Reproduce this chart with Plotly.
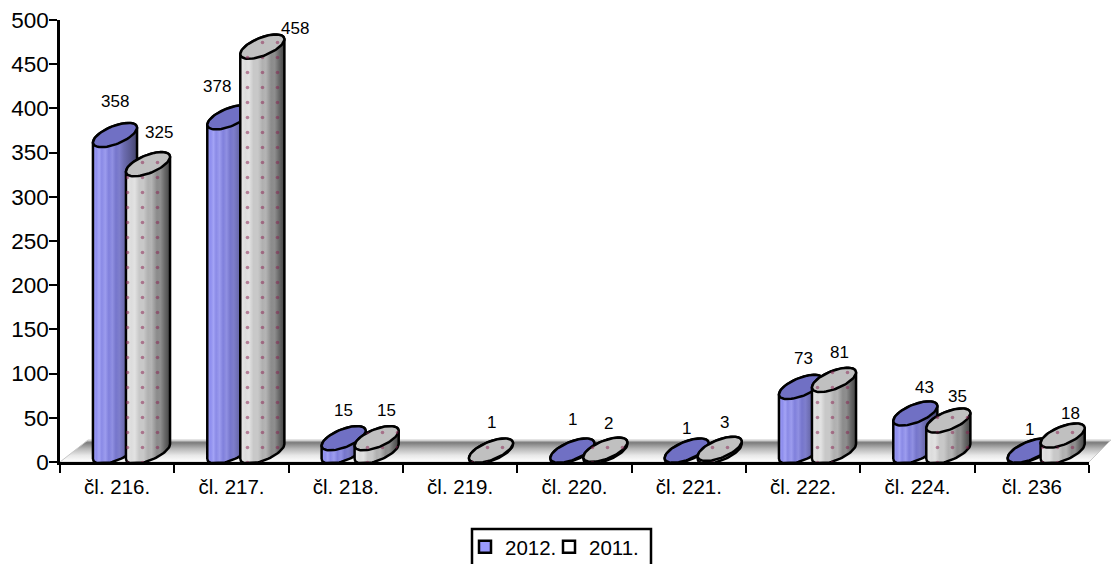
import math
import numpy as np
import plotly.graph_objects as go

categories = ["čl. 216.", "čl. 217.", "čl. 218.", "čl. 219.", "čl. 220.", "čl. 221.", "čl. 222.", "čl. 224.", "čl. 236"]
values_2012 = [358, 378, 15, None, 1, 1, 73, 43, 1]
values_2011 = [325, 458, 15, 1, 2, 3, 81, 35, 18]
y_ticks = [0, 50, 100, 150, 200, 250, 300, 350, 400, 450, 500]

# label nudges in pixels from the top of each cylinder
label_nudge_2012 = [(0, 44), (-12, 41), (0, 38), (0, 0), (0, 42), (0, 33), (3, 39), (9, 36), (0, 32)]
label_nudge_2011 = [(11, 42), (33, 29), (10, 38), (1, 39), (3, 37), (5, 37), (6, 38), (9, 35), (8, 33)]

L, R, T, B = 60, 0, 20, 102
W, H = 1111, 564
AXIS_W = 1029
PLOT_W = W - L - R
PX_X = AXIS_W / 9
PX_Y = (H - T - B) / 500
A, BB, TH = 23.5, 9.0, math.radians(22)
CY_OFF = 10.5
T0 = math.atan2(-BB * math.sin(TH), A * math.cos(TH))


def ell(t, cx, v):
    dx = A * np.cos(t) * math.cos(TH) - BB * np.sin(t) * math.sin(TH)
    dy = A * np.cos(t) * math.sin(TH) + BB * np.sin(t) * math.cos(TH)
    return cx + dx / PX_X, v + (CY_OFF + dy) / PX_Y


def full_ellipse(cx, v):
    return ell(np.linspace(0, 2 * math.pi, 73), cx, v)


def body(cx, v):
    lower = np.linspace(T0 + math.pi, T0 + 2 * math.pi, 40)
    upper = np.linspace(T0, T0 + math.pi, 40)
    bx, by = ell(lower, cx, 0)
    tx, ty = ell(upper, cx, v)
    return np.r_[bx, tx, bx[0]], np.maximum(np.r_[by, ty, by[0]], -1.0)


BLUE_SCALE = [[0, "#9c9cf8"], [0.08, "#8f8fee"], [0.14, "#a3a3f5"], [0.2, "#8a8ae6"], [0.28, "#9c9cee"],
              [0.36, "#8080dc"], [0.44, "#9090e2"], [0.52, "#7676cc"], [0.6, "#7e7ecc"], [0.7, "#6c6cb0"],
              [0.85, "#5a5a92"], [1, "#44446c"]]
GRAY_SCALE = [[0, "#e8e8e8"], [0.12, "#dcdcdc"], [0.2, "#e2e2e2"], [0.3, "#c8c8c8"], [0.4, "#c8c8c8"],
              [0.5, "#b0b0b0"], [0.58, "#b4b4b4"], [0.7, "#8c8c8c"], [0.78, "#8e8e8e"], [0.88, "#686868"],
              [1, "#444444"]]
SERIES = [
    ("2012.", values_2012, -0.019, BLUE_SCALE, "#7070c4", label_nudge_2012, False),
    ("2011.", values_2011, 33 / PX_X - 0.019, GRAY_SCALE, "#c0c0c0", label_nudge_2011, True),
]
DOTS = dict(shape=".", size=15, solidity=0.045, fgcolor="#8a2050", bgcolor="rgba(0,0,0,0)", fillmode="overlay")
X2_RANGE = [-0.5, -0.5 + PLOT_W / PX_X]

fig = go.Figure()
# carries the category axis
fig.add_trace(go.Scatter(x=categories, y=values_2011, mode="markers", marker=dict(opacity=0),
                         showlegend=False, hoverinfo="skip"))

# floor
x0, dp = -0.5, 28 / PX_X
floor_h = 22 / PX_Y
floor_x = [x0, x0 + 9, x0 + 9 + 22 / PX_X, x0 + dp, x0]
floor_y = [0, 0, floor_h, floor_h, 0]
fig.add_trace(go.Scatter(x=floor_x, y=floor_y, xaxis="x2", mode="lines", fill="toself",
                         line=dict(color="#c8c8c8", width=1),
                         fillgradient=dict(type="vertical",
                                           colorscale=[[0, "#ffffff"], [0.3, "#e8e8e8"], [0.6, "#b8b8b8"],
                                                       [0.88, "#7c7c7c"], [0.93, "#a0a0a0"], [1, "#f0f0f0"]]),
                         showlegend=False, hoverinfo="skip"))

annotations = []
for i in range(len(categories)):
    for name, vals, off, scale, top, nudge, dotted in SERIES:
        v = vals[i]
        if v is None:
            continue
        cx = i + off
        bx, by = body(cx, v)
        fig.add_trace(go.Scatter(x=bx, y=by, xaxis="x2", mode="lines", fill="toself",
                                 line=dict(color="black", width=2.5),
                                 fillgradient=dict(type="horizontal", colorscale=scale),
                                 showlegend=False, hoverinfo="skip"))
        if dotted:
            fig.add_trace(go.Scatter(x=bx, y=by, xaxis="x2", mode="none", fill="toself",
                                     fillcolor="rgba(0,0,0,0)", fillpattern=DOTS,
                                     showlegend=False, hoverinfo="skip"))
        ex, ey = full_ellipse(cx, v)
        fig.add_trace(go.Scatter(x=ex, y=ey, xaxis="x2", mode="lines", fill="toself", fillcolor=top,
                                 line=dict(color="black", width=2.5),
                                 showlegend=False, hoverinfo="skip"))
        if dotted:
            fig.add_trace(go.Scatter(x=ex, y=ey, xaxis="x2", mode="none", fill="toself",
                                     fillcolor="rgba(0,0,0,0)", fillpattern=DOTS,
                                     showlegend=False, hoverinfo="skip"))
        annotations.append(dict(x=cx, y=v, xref="x2", yref="y", text=str(v), showarrow=False,
                                xshift=nudge[i][0], yshift=nudge[i][1],
                                font=dict(family="Liberation Sans", size=17, color="black")))

for name, color, lg in (("2012.", "#9999ff", "legend"), ("2011.", "#ffffff", "legend2")):
    fig.add_trace(go.Scatter(x=[None], y=[None], xaxis="x2", mode="markers", name=name, legend=lg, showlegend=True,
                             marker=dict(symbol="square", size=12, color=color, line=dict(color="black", width=2.5))))

plot_h = H - T - B
legend_common = dict(orientation="h", xref="container", xanchor="left", y=37 / 564, yref="container",
                     yanchor="top", bgcolor="rgba(0,0,0,0)", borderwidth=0, font=dict(size=20.5),
                     itemwidth=30, itemclick=False, itemdoubleclick=False)
fig.update_layout(
    width=W, height=H, margin=dict(l=L, r=R, t=T, b=B, pad=0, autoexpand=False),
    paper_bgcolor="white", plot_bgcolor="white", hovermode=False,
    font=dict(family="Liberation Sans", color="black"),
    xaxis=dict(type="category", categoryorder="array", categoryarray=categories, range=[-0.5, 8.5],
               domain=[0, AXIS_W / PLOT_W], anchor="y",
               tickson="boundaries", ticks="outside", ticklen=8, tickwidth=2, tickcolor="black",
               showline=True, linewidth=2.5, linecolor="black", showgrid=False, zeroline=False,
               ticklabelstandoff=5, tickfont=dict(size=20.5)),
    xaxis2=dict(domain=[0, 1], range=X2_RANGE, visible=False, anchor="y"),
    yaxis=dict(range=[0, 500], tickvals=y_ticks, ticks="outside", ticklen=8, tickwidth=2, tickcolor="black",
               showline=True, linewidth=2.5, linecolor="black", showgrid=False, zeroline=False,
               ticklabelstandoff=-4, tickfont=dict(size=22.5)),
    legend=dict(x=465 / W, **legend_common),
    legend2=dict(x=549 / W, **legend_common),
    shapes=[dict(type="rect", xref="paper", yref="paper",
                 x0=(472 - L) / PLOT_W, x1=(651 - L) / PLOT_W,
                 y0=(T + plot_h - 529) / plot_h, y1=(T + plot_h - 575) / plot_h,
                 line=dict(color="black", width=2.5), fillcolor="white", layer="below")],
    annotations=annotations,
)
fig.write_html("out.html", config=dict(displayModeBar=False),
               post_script="document.body.style.margin='0';document.documentElement.style.overflow='hidden';")
